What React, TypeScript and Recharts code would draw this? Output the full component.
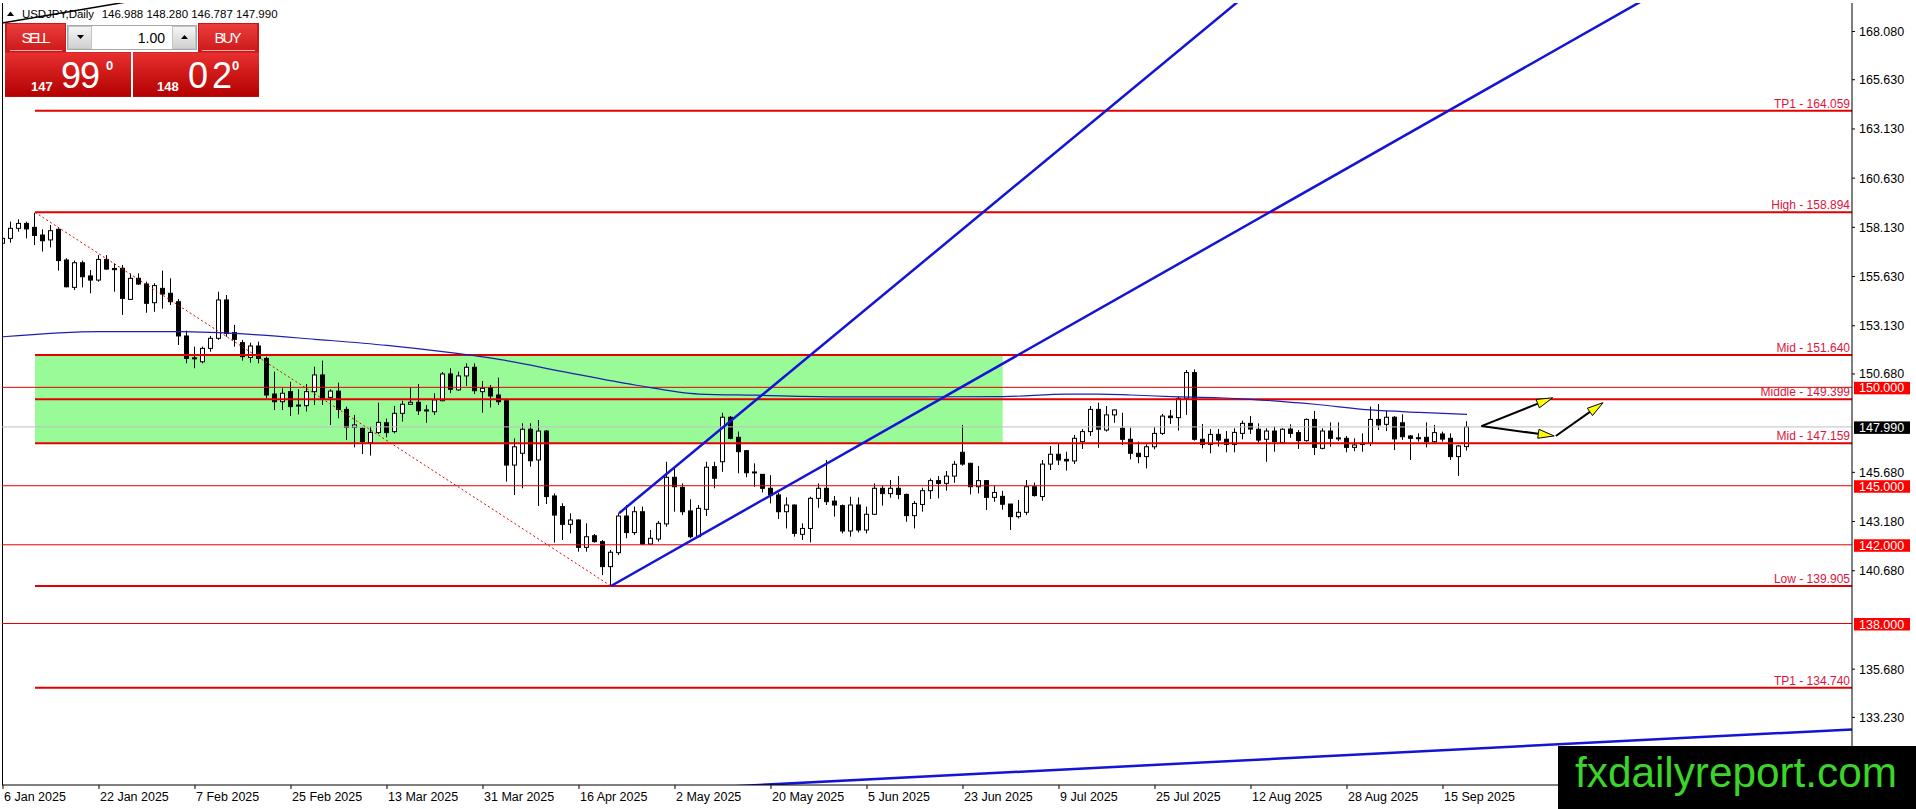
import { ComposedChart, Bar, Line, XAxis, YAxis, ReferenceLine, ReferenceArea } from 'recharts';

// daily bars, one per trading day from 6 Jan 2025 (index 0) to 18 Sep 2025
const opens = [
  157.32, 157.57, 158.08, 158.33, 158.13, 157.74, 157.49, 158.03, 156.47, 155.08,
  156.33, 155.66, 155.45, 156.5, 156.04, 156.05, 154.47, 155.54, 155.25, 154.3,
  155.03, 154.78, 154.35, 152.61, 151.5, 151.3, 151.98, 152.49, 154.44, 152.78,
  152.27, 151.52, 152.1, 151.47, 149.66, 149.27, 149.78, 149.1, 149.07, 149.78,
  150.63, 149.49, 149.81, 148.88, 147.97, 147.92, 147.19, 147.7, 148.2, 147.75,
  148.68, 149.14, 149.24, 148.85, 148.76, 149.32, 150.68, 149.87, 150.58, 151.02,
  149.78, 149.98, 149.61, 149.32, 146.05, 146.65, 147.87, 146.31, 147.78, 144.48,
  143.94, 143.04, 143.26, 141.87, 142.46, 142.16, 140.89, 141.6, 143.46, 142.62,
  143.68, 142.04, 142.29, 143.06, 145.43, 144.92, 143.72, 142.41, 143.8, 145.97,
  146.22, 148.48, 147.46, 146.78, 145.7, 145.58, 144.87, 144.53, 143.68, 144.02,
  142.53, 142.83, 144.36, 144.87, 144.22, 143.99, 142.7, 144.02, 142.75, 143.55,
  144.87, 144.6, 144.87, 144.56, 143.48, 144.05, 144.75, 145.26, 145.12, 145.49,
  146.7, 146.14, 144.95, 145.26, 144.41, 144.46, 144.07, 143.43, 143.65, 144.95,
  144.45, 146.1, 146.6, 146.34, 146.26, 147.24, 147.75, 148.88, 147.83, 148.6,
  147.92, 147.36, 146.65, 146.48, 146.98, 147.66, 148.54, 148.46, 149.44, 150.75,
  147.36, 147.1, 147.61, 147.36, 147.1, 147.66, 148.17, 147.87, 147.36, 147.78,
  147.19, 147.88, 147.7, 147.29, 148.37, 146.9, 147.78, 147.43, 147.41, 146.95,
  147.16, 147.16, 148.37, 148.12, 148.48, 148.2, 147.53, 147.44, 147.46, 147.24,
  147.63, 147.41, 146.48, 146.988,
];
const highs = [
  157.9, 158.42, 158.54, 158.42, 158.87, 158.03, 158.25, 158.08, 156.56, 156.44,
  156.44, 155.96, 156.72, 156.72, 156.3, 156.22, 155.79, 155.79, 155.37, 155.29,
  155.93, 155.54, 154.49, 152.88, 152.07, 152.07, 152.61, 154.86, 154.69, 153.17,
  152.41, 152.27, 152.32, 151.56, 150.8, 149.95, 150.29, 149.9, 150.17, 151.05,
  151.36, 149.9, 150.24, 149.02, 148.6, 147.97, 148.0, 149.22, 148.41, 149.05,
  149.32, 150.0, 150.17, 149.1, 149.7, 150.78, 150.97, 150.8, 151.22, 151.22,
  150.32, 150.12, 150.49, 149.44, 147.41, 148.17, 148.17, 148.34, 147.83, 144.61,
  144.11, 143.6, 143.29, 143.09, 142.55, 142.24, 141.74, 143.6, 144.02, 143.94,
  143.94, 142.75, 143.21, 146.22, 145.88, 145.12, 144.31, 144.02, 146.22, 146.22,
  148.71, 148.54, 147.75, 146.82, 146.14, 145.58, 145.54, 144.65, 144.41, 144.05,
  143.09, 144.44, 145.12, 146.31, 144.48, 144.05, 144.44, 144.41, 143.94, 145.12,
  145.0, 145.29, 145.49, 144.6, 144.22, 144.9, 145.37, 145.49, 145.75, 146.26,
  148.09, 146.17, 146.0, 145.29, 145.0, 144.74, 144.07, 144.28, 145.29, 145.16,
  146.31, 147.02, 147.12, 146.73, 147.58, 147.88, 149.05, 149.22, 149.05, 148.88,
  148.71, 147.95, 147.24, 147.1, 147.97, 148.65, 148.85, 149.53, 150.88, 150.91,
  148.14, 147.88, 147.88, 147.78, 147.92, 148.31, 148.54, 148.17, 147.92, 148.0,
  147.92, 148.12, 147.83, 148.42, 148.8, 147.92, 148.22, 148.22, 147.53, 147.41,
  147.66, 149.02, 149.15, 148.81, 148.54, 148.63, 147.58, 147.66, 148.22, 148.09,
  147.75, 147.66, 147.07, 148.28,
];
const lows = [
  157.2, 157.35, 157.91, 157.57, 157.23, 156.9, 157.11, 155.93, 155.08, 154.95,
  155.08, 154.78, 155.37, 155.96, 154.86, 153.68, 154.44, 155.2, 153.79, 153.84,
  154.0, 154.18, 152.15, 151.22, 150.97, 151.22, 151.81, 152.41, 152.57, 152.07,
  151.36, 151.25, 151.22, 149.44, 148.85, 148.85, 148.54, 148.63, 148.77, 149.1,
  149.1, 148.09, 148.43, 147.32, 146.95, 146.61, 146.53, 147.63, 147.46, 147.66,
  148.26, 149.14, 148.6, 148.2, 148.6, 149.29, 149.7, 149.83, 150.07, 149.66,
  148.71, 148.98, 149.1, 145.21, 144.53, 144.87, 145.97, 143.97, 144.07, 142.11,
  142.24, 142.58, 141.65, 141.65, 142.11, 140.46, 139.89, 141.48, 142.33, 142.5,
  142.0, 141.99, 142.16, 142.92, 143.68, 143.51, 142.33, 142.38, 143.46, 144.87,
  145.71, 147.36, 145.63, 145.43, 144.95, 144.66, 144.1, 143.31, 142.83, 142.41,
  142.24, 142.12, 143.88, 144.02, 143.43, 142.58, 142.41, 142.63, 142.58, 143.51,
  143.99, 144.39, 144.32, 143.17, 142.83, 143.68, 144.33, 144.36, 144.75, 145.15,
  146.02, 144.56, 144.61, 143.77, 144.19, 143.78, 142.75, 143.34, 143.51, 144.45,
  144.24, 145.8, 146.05, 145.77, 146.1, 146.87, 147.53, 146.93, 147.75, 148.2,
  147.07, 146.34, 146.14, 145.88, 146.85, 147.58, 148.14, 147.8, 148.6, 147.29,
  146.9, 146.65, 146.99, 146.7, 146.7, 147.36, 147.63, 147.16, 146.22, 146.73,
  147.12, 147.44, 146.87, 147.24, 146.56, 146.85, 146.98, 147.27, 146.7, 146.76,
  146.73, 147.02, 147.83, 147.78, 146.82, 147.33, 146.31, 147.24, 146.95, 147.12,
  147.24, 146.31, 145.5, 146.787,
];
const closes = [
  157.57, 158.08, 158.33, 158.05, 157.72, 157.45, 157.96, 156.44, 155.11, 156.33,
  155.62, 155.45, 156.5, 156.01, 155.98, 154.52, 155.54, 155.25, 154.27, 155.17,
  154.74, 154.35, 152.61, 151.47, 151.45, 151.98, 152.49, 154.44, 152.74, 152.44,
  151.56, 152.1, 151.47, 149.61, 149.27, 149.7, 149.02, 149.05, 149.78, 150.63,
  149.44, 149.81, 148.88, 147.97, 148.09, 147.24, 147.71, 148.22, 147.7, 148.68,
  149.14, 149.24, 148.81, 148.8, 149.36, 150.68, 149.9, 150.58, 151.02, 149.83,
  149.95, 149.56, 149.27, 146.05, 146.98, 147.87, 146.27, 147.78, 144.45, 143.51,
  143.04, 143.26, 141.87, 142.41, 142.16, 140.89, 141.62, 143.46, 142.62, 143.68,
  142.04, 142.33, 143.09, 145.43, 144.95, 143.68, 142.41, 143.85, 145.94, 145.38,
  148.48, 147.41, 146.73, 145.66, 145.66, 144.87, 144.53, 143.68, 144.02, 142.58,
  142.83, 144.36, 144.87, 144.19, 144.02, 142.7, 144.02, 142.75, 143.55, 144.87,
  144.6, 144.87, 144.56, 143.48, 144.1, 144.75, 145.26, 145.12, 145.49, 146.09,
  146.1, 144.95, 145.26, 144.41, 144.66, 144.06, 143.43, 143.65, 144.95, 144.5,
  146.1, 146.6, 146.31, 146.26, 147.41, 147.75, 148.88, 147.87, 148.6, 148.85,
  147.36, 146.65, 146.48, 146.98, 147.66, 148.54, 148.46, 149.44, 150.75, 147.36,
  147.1, 147.61, 147.32, 147.1, 147.71, 148.17, 147.88, 147.32, 147.78, 147.24,
  147.87, 147.66, 147.29, 148.37, 146.95, 147.78, 147.41, 147.41, 146.95, 147.07,
  147.1, 148.37, 148.09, 148.48, 147.38, 147.49, 147.41, 147.41, 147.24, 147.7,
  147.37, 146.48, 147.02, 147.99,
];

// moving average, read at a few bars along its path
const maIdx = [0, 12, 22, 31, 39, 48, 56, 62, 70, 79, 87, 94, 105, 115, 125, 133, 137, 141, 146, 152, 156, 164, 171, 177, 183];
const maVals = [152.57, 152.83, 152.83, 152.69, 152.44, 152.13, 151.76, 151.42, 150.8, 150.12, 149.66, 149.6, 149.52, 149.52, 149.53, 149.66, 149.66, 149.61, 149.53, 149.47, 149.39, 149.14, 148.85, 148.73, 148.63];

const dateTickIdx = [0, 12, 24, 36, 48, 60, 72, 84, 96, 108, 120, 132, 144, 156, 168, 180];
const dateTickLabels = [
  '6 Jan 2025', '22 Jan 2025', '7 Feb 2025', '25 Feb 2025', '13 Mar 2025', '31 Mar 2025',
  '16 Apr 2025', '2 May 2025', '20 May 2025', '5 Jun 2025', '23 Jun 2025', '9 Jul 2025',
  '25 Jul 2025', '12 Aug 2025', '28 Aug 2025', '15 Sep 2025',
];

const priceTicks = [168.08, 165.63, 163.13, 160.63, 158.13, 155.63, 153.13, 150.68, 145.68, 143.18, 140.68, 135.68, 133.23];

const levelPrices = [164.059, 158.894, 151.64, 149.399, 147.159, 139.905, 134.74];
const levelNames = ['TP1', 'High', 'Mid', 'Middle', 'Mid', 'Low', 'TP1'];
const roundLevels = [150, 145, 142, 138];
const lastPrice = 147.99;

const zoneStart = 4;
const zoneEnd = 124.96;
const xMin = -0.125;
const xMax = 231.125;

// drawn objects, as (bar index, price) pairs
const channelUpper = [{ x: 77, y: 143.6 }, { x: 160, y: 171.49 }];
const channelLower = [{ x: 76, y: 139.905 }, { x: 231.125, y: 175.69 }];
const bottomLine = [{ x: 60, y: 129.08 }, { x: 231.125, y: 132.62 }];
const titleLine = [{ x: -0.125, y: 168.514 }, { x: 20, y: 169.893 }];
const dropLine = [{ x: 4, y: 158.894 }, { x: 76, y: 139.905 }];
const arrows = [
  [{ x: 184.8, y: 148.03 }, { x: 193.7, y: 149.47 }],
  [{ x: 184.8, y: 148.03 }, { x: 193.9, y: 147.53 }],
  [{ x: 194.1, y: 147.53 }, { x: 200.0, y: 149.22 }],
];

const FONT = "'Liberation Sans', Arial, sans-serif";
const RED = '#e30000';
const BLUE = '#1414d6';

const candles = opens.map((o, i) => ({
  i,
  o,
  h: highs[i],
  l: lows[i],
  c: closes[i],
  range: [lows[i], highs[i]],
  ma: null as number | null,
}));
maIdx.forEach((k, j) => {
  candles[k].ma = maVals[j];
});

const Candle = (props: any) => {
  const { x, y, width, height, payload } = props;
  const top = Math.min(y, y + height);
  const bot = Math.max(y, y + height);
  const span = payload.h - payload.l;
  const py = (v: number) => (span > 0 ? top + ((payload.h - v) / span) * (bot - top) : top);
  const cx = Math.floor(x + width / 2) + 0.5;
  const yo = py(payload.o);
  const yc = py(payload.c);
  const bodyTop = Math.min(yo, yc);
  const bodyH = Math.max(1, Math.abs(yc - yo));
  const up = payload.c >= payload.o;
  return (
    <g>
      <line x1={cx} x2={cx} y1={top} y2={bot} stroke="#000" strokeWidth={1} />
      <rect x={cx - 2} y={bodyTop} width={4} height={bodyH} fill={up ? '#fff' : '#000'} stroke="#000" strokeWidth={1} />
    </g>
  );
};

const DateTick = ({ x, y, payload }: any) => {
  const k = dateTickIdx.indexOf(payload.value);
  return (
    <text x={x + 1} y={y + 10} textAnchor="start" fill="#000" fontSize={12.5} fontFamily={FONT}>
      {k >= 0 ? dateTickLabels[k] : ''}
    </text>
  );
};

const levelLabel = (text: string) => (props: any) => {
  const vb = props.viewBox;
  return (
    <text x={vb.x + vb.width - 2} y={vb.y - 3} textAnchor="end" fill="#dc143c" fontSize={12} fontFamily={FONT}>
      {text}
    </text>
  );
};

const priceBox = (text: string, bg: string) => (props: any) => {
  const vb = props.viewBox;
  const x0 = vb.x + vb.width + 2;
  return (
    <g>
      <rect x={x0} y={vb.y - 5.5} width={56} height={12.5} fill={bg} />
      <text x={x0 + 5} y={vb.y + 5} fill="#fff" fontSize={12.5} fontFamily={FONT}>
        {text}
      </text>
    </g>
  );
};

const arrowShape = (props: any) => {
  const { x1, y1, x2, y2 } = props;
  const len = Math.hypot(x2 - x1, y2 - y1) || 1;
  const ux = (x2 - x1) / len;
  const uy = (y2 - y1) / len;
  const bx = x2 - ux * 16;
  const by = y2 - uy * 16;
  const w = 4.5;
  return (
    <g>
      <line x1={x1} y1={y1} x2={bx} y2={by} stroke="#000" strokeWidth={2} />
      <polygon
        points={`${x2},${y2} ${bx - uy * w},${by + ux * w} ${bx + uy * w},${by - ux * w}`}
        fill="#ffff00"
        stroke="#000"
        strokeWidth={1}
      />
    </g>
  );
};

const TradePanel = () => (
  <svg width={330} height={100} style={{ position: 'absolute', left: 0, top: 0 }}>
    <defs>
      <linearGradient id="pnlRed" x1="0" y1="0" x2="0" y2="1">
        <stop offset="0" stopColor="#e83030" />
        <stop offset="1" stopColor="#b30000" />
      </linearGradient>
      <linearGradient id="pnlBtn" x1="0" y1="0" x2="0" y2="1">
        <stop offset="0" stopColor="#ec3d3d" />
        <stop offset="1" stopColor="#cc1a1a" />
      </linearGradient>
      <linearGradient id="pnlGray" x1="0" y1="0" x2="0" y2="1">
        <stop offset="0" stopColor="#f6f6f6" />
        <stop offset="1" stopColor="#cfcfcf" />
      </linearGradient>
    </defs>
    <polygon points="7,16 14,16 10.5,11.5" fill="#000" />
    <text x={22} y={18} fontSize={11.5} fontFamily={FONT} fill="#000" textLength={72}>
      USDJPY,Daily
    </text>
    <text x={101.7} y={18} fontSize={11.5} fontFamily={FONT} fill="#000">
      146.988 148.280 146.787 147.990
    </text>

    <rect x={5} y={23} width={126} height={74} fill="#c81818" />
    <rect x={133} y={23} width={126} height={74} fill="#c81818" />
    <rect x={66} y={23} width={132} height={29} fill="#fff" />
    <rect x={7} y={24} width={58} height={27} fill="url(#pnlBtn)" />
    <line x1={10} x2={62} y1={50.5} y2={50.5} stroke="#f2b0b0" strokeWidth={1} />
    <text x={36} y={43} textAnchor="middle" fontSize={15} fontFamily={FONT} fill="#fff" textLength={29}>
      SELL
    </text>
    <rect x={199} y={24} width={58} height={27} fill="url(#pnlBtn)" />
    <line x1={202} x2={255} y1={50.5} y2={50.5} stroke="#f2b0b0" strokeWidth={1} />
    <text x={228} y={43} textAnchor="middle" fontSize={15} fontFamily={FONT} fill="#fff" textLength={27}>
      BUY
    </text>

    <rect x={67.5} y={25.5} width={129} height={24} fill="#fff" stroke="#a8a8a8" />
    <rect x={68.5} y={26.5} width={23} height={22} fill="url(#pnlGray)" stroke="#c4c4c4" />
    <polygon points="77,35 84,35 80.5,39" fill="#000" />
    <rect x={172.5} y={26.5} width={23} height={22} fill="url(#pnlGray)" stroke="#c4c4c4" />
    <polygon points="181,39 188,39 184.5,35" fill="#000" />
    <text x={165} y={43} textAnchor="end" fontSize={14} fontFamily={FONT} fill="#000">
      1.00
    </text>

    <rect x={5} y={52.5} width={126} height={44} fill="url(#pnlRed)" />
    <rect x={133} y={52.5} width={126} height={44} fill="url(#pnlRed)" />
    <text x={31} y={90.5} fontSize={13} fontWeight="bold" fontFamily={FONT} fill="#fff">
      147
    </text>
    <text x={61} y={87.5} fontSize={36} fontFamily={FONT} fill="#fff" textLength={39}>
      99
    </text>
    <text x={106} y={70} fontSize={13} fontWeight="bold" fontFamily={FONT} fill="#fff">
      0
    </text>
    <text x={157} y={90.5} fontSize={13} fontWeight="bold" fontFamily={FONT} fill="#fff">
      148
    </text>
    <text x={188} y={87.5} fontSize={36} fontFamily={FONT} fill="#fff" textLength={44}>
      02
    </text>
    <text x={232} y={70} fontSize={13} fontWeight="bold" fontFamily={FONT} fill="#fff">
      0
    </text>
  </svg>
);

const Watermark = () => (
  <svg width={358} height={63} style={{ position: 'absolute', left: 1558, top: 746, background: '#000' }}>
    <text x={17} y={41} fontSize={42} fontFamily={FONT} fill="#3ad42a" textLength={322} lengthAdjust="spacingAndGlyphs">
      fxdailyreport.com
    </text>
  </svg>
);

const App = () => {
  return (
    <div style={{ position: 'absolute', left: 0, top: 0, width: 1916, height: 809, background: '#fff' }}>
      <ComposedChart width={1916} height={809} data={candles} margin={{ top: 3, right: 2, bottom: 0, left: 2 }}>
        <XAxis
          dataKey="i"
          type="number"
          domain={[xMin, xMax]}
          allowDataOverflow
          ticks={dateTickIdx}
          interval={0}
          tick={<DateTick />}
          height={24}
          tickSize={4}
          tickMargin={2}
          axisLine={{ stroke: '#000' }}
          tickLine={{ stroke: '#000' }}
        />
        <YAxis
          orientation="right"
          type="number"
          domain={[129.794, 169.529]}
          allowDataOverflow
          ticks={priceTicks}
          interval={0}
          tickFormatter={(v: number) => v.toFixed(3)}
          width={62}
          tickSize={3}
          tickMargin={4}
          tick={{ fill: '#000', fontSize: 12.5, fontFamily: FONT }}
          axisLine={{ stroke: '#000' }}
          tickLine={{ stroke: '#000' }}
        />

        <ReferenceArea x1={zoneStart} x2={zoneEnd} y1={levelPrices[4]} y2={levelPrices[2]} fill="#98fb98" fillOpacity={1} stroke="none" />

        <ReferenceLine x={-0.0625} stroke="#000" strokeWidth={1} ifOverflow="visible" />
        <ReferenceLine y={lastPrice} stroke="#c0c0c0" strokeWidth={1} label={priceBox(lastPrice.toFixed(3), '#000')} />
        {roundLevels.map((p) => (
          <ReferenceLine key={`r${p}`} y={p} stroke={RED} strokeWidth={1} label={priceBox(p.toFixed(3), '#ff0000')} />
        ))}
        {levelPrices.map((p, k) => (
          <ReferenceLine
            key={`l${k}`}
            segment={[{ x: zoneStart, y: p }, { x: xMax, y: p }]}
            stroke={RED}
            strokeWidth={2}
            ifOverflow="visible"
            label={levelLabel(`${levelNames[k]} - ${p.toFixed(3)}`)}
          />
        ))}

        <Line
          dataKey="ma"
          type="monotone"
          connectNulls
          stroke="#1e1eb0"
          strokeWidth={1.2}
          dot={false}
          activeDot={false}
          isAnimationActive={false}
        />
        <Bar dataKey="range" barSize={5} isAnimationActive={false} shape={(p: any) => <Candle {...p} />} />

        <ReferenceLine segment={dropLine} stroke={RED} strokeWidth={1} strokeDasharray="2 2.5" ifOverflow="hidden" />
        <ReferenceLine segment={channelUpper} stroke={BLUE} strokeWidth={2.5} ifOverflow="hidden" />
        <ReferenceLine segment={channelLower} stroke={BLUE} strokeWidth={2.5} ifOverflow="hidden" />
        <ReferenceLine segment={bottomLine} stroke={BLUE} strokeWidth={2.5} ifOverflow="hidden" />
        <ReferenceLine segment={titleLine} stroke="#000" strokeWidth={1.5} ifOverflow="hidden" />
        {arrows.map((seg, k) => (
          <ReferenceLine key={`a${k}`} segment={seg} ifOverflow="visible" shape={arrowShape} />
        ))}
      </ComposedChart>
      <TradePanel />
      <Watermark />
    </div>
  );
};

export default App;
